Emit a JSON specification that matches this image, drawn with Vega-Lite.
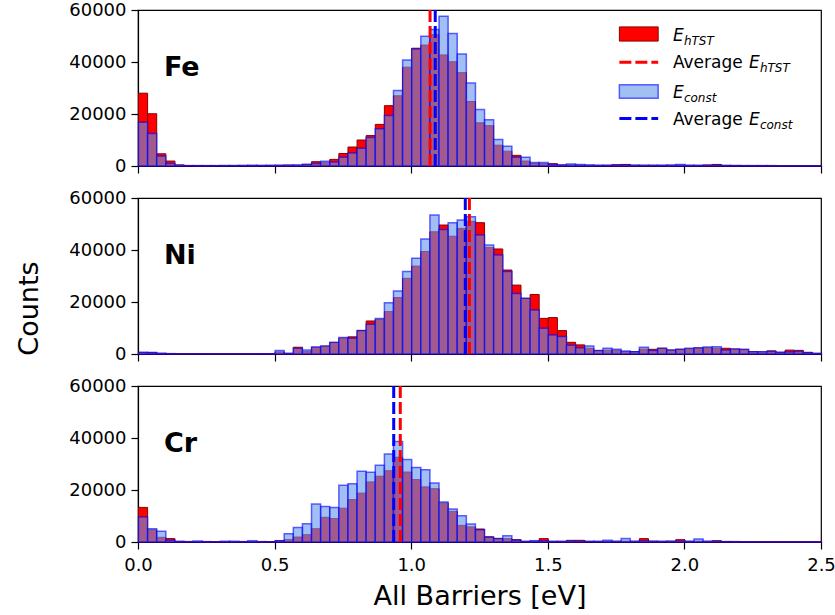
{
"$schema": "https://vega.github.io/schema/vega-lite/v6.json",
"background": "white",
"padding": {"left": 14, "top": 0, "right": 0, "bottom": 0},
"bounds": "flush",
"spacing": 32,
"datasets": {
"Fe_h": [{"x":0,"n":28000},{"x":0.0333,"n":20100},{"x":0.0667,"n":4700},{"x":0.1,"n":1900},{"x":0.1333,"n":400},{"x":0.1667,"n":200},{"x":0.2,"n":150},{"x":0.2333,"n":150},{"x":0.2667,"n":150},{"x":0.3,"n":150},{"x":0.3333,"n":150},{"x":0.3667,"n":150},{"x":0.4,"n":200},{"x":0.4333,"n":200},{"x":0.4667,"n":250},{"x":0.5,"n":300},{"x":0.5333,"n":350},{"x":0.5667,"n":300},{"x":0.6,"n":600},{"x":0.6333,"n":1650},{"x":0.6667,"n":1300},{"x":0.7,"n":2550},{"x":0.7333,"n":4800},{"x":0.7667,"n":7300},{"x":0.8,"n":10000},{"x":0.8333,"n":11700},{"x":0.8667,"n":16000},{"x":0.9,"n":23200},{"x":0.9333,"n":27000},{"x":0.9667,"n":38000},{"x":1,"n":45300},{"x":1.0333,"n":46500},{"x":1.0667,"n":50500},{"x":1.1,"n":42700},{"x":1.1333,"n":40100},{"x":1.1667,"n":35900},{"x":1.2,"n":24800},{"x":1.2333,"n":16600},{"x":1.2667,"n":15500},{"x":1.3,"n":8000},{"x":1.3333,"n":5700},{"x":1.3667,"n":4100},{"x":1.4,"n":1900},{"x":1.4333,"n":1000},{"x":1.4667,"n":900},{"x":1.5,"n":900},{"x":1.5333,"n":400},{"x":1.5667,"n":400},{"x":1.6,"n":300},{"x":1.6333,"n":300},{"x":1.6667,"n":250},{"x":1.7,"n":300},{"x":1.7333,"n":500},{"x":1.7667,"n":600},{"x":1.8,"n":300},{"x":1.8333,"n":250},{"x":1.8667,"n":300},{"x":1.9,"n":250},{"x":1.9333,"n":250},{"x":1.9667,"n":300},{"x":2,"n":250},{"x":2.0333,"n":250},{"x":2.0667,"n":400},{"x":2.1,"n":600},{"x":2.1333,"n":250},{"x":2.1667,"n":200},{"x":2.2,"n":200},{"x":2.2333,"n":150},{"x":2.2667,"n":150},{"x":2.3,"n":100},{"x":2.3333,"n":100},{"x":2.3667,"n":100},{"x":2.4,"n":100},{"x":2.4333,"n":100},{"x":2.4667,"n":100}],
"Fe_c": [{"x":0,"n":16800},{"x":0.0333,"n":12500},{"x":0.0667,"n":3800},{"x":0.1,"n":1000},{"x":0.1333,"n":300},{"x":0.1667,"n":150},{"x":0.2,"n":150},{"x":0.2333,"n":150},{"x":0.2667,"n":150},{"x":0.3,"n":200},{"x":0.3333,"n":200},{"x":0.3667,"n":250},{"x":0.4,"n":300},{"x":0.4333,"n":250},{"x":0.4667,"n":250},{"x":0.5,"n":250},{"x":0.5333,"n":300},{"x":0.5667,"n":400},{"x":0.6,"n":700},{"x":0.6333,"n":1000},{"x":0.6667,"n":1800},{"x":0.7,"n":1500},{"x":0.7333,"n":3400},{"x":0.7667,"n":5000},{"x":0.8,"n":6800},{"x":0.8333,"n":11000},{"x":0.8667,"n":14300},{"x":0.9,"n":19400},{"x":0.9333,"n":29000},{"x":0.9667,"n":40800},{"x":1,"n":45000},{"x":1.0333,"n":49900},{"x":1.0667,"n":52500},{"x":1.1,"n":57600},{"x":1.1333,"n":51000},{"x":1.1667,"n":43100},{"x":1.2,"n":31900},{"x":1.2333,"n":21700},{"x":1.2667,"n":17800},{"x":1.3,"n":10200},{"x":1.3333,"n":7600},{"x":1.3667,"n":3400},{"x":1.4,"n":3400},{"x":1.4333,"n":1300},{"x":1.4667,"n":1300},{"x":1.5,"n":600},{"x":1.5333,"n":400},{"x":1.5667,"n":800},{"x":1.6,"n":600},{"x":1.6333,"n":400},{"x":1.6667,"n":300},{"x":1.7,"n":250},{"x":1.7333,"n":300},{"x":1.7667,"n":350},{"x":1.8,"n":300},{"x":1.8333,"n":300},{"x":1.8667,"n":250},{"x":1.9,"n":300},{"x":1.9333,"n":400},{"x":1.9667,"n":600},{"x":2,"n":300},{"x":2.0333,"n":250},{"x":2.0667,"n":250},{"x":2.1,"n":300},{"x":2.1333,"n":200},{"x":2.1667,"n":200},{"x":2.2,"n":150},{"x":2.2333,"n":150},{"x":2.2667,"n":150},{"x":2.3,"n":150},{"x":2.3333,"n":100},{"x":2.3667,"n":100},{"x":2.4,"n":100},{"x":2.4333,"n":100},{"x":2.4667,"n":80}],
"Ni_h": [{"x":0,"n":600},{"x":0.0333,"n":600},{"x":0.0667,"n":250},{"x":0.1,"n":150},{"x":0.1333,"n":100},{"x":0.1667,"n":100},{"x":0.2,"n":100},{"x":0.2333,"n":100},{"x":0.2667,"n":80},{"x":0.3,"n":80},{"x":0.3333,"n":80},{"x":0.3667,"n":80},{"x":0.4,"n":100},{"x":0.4333,"n":100},{"x":0.4667,"n":100},{"x":0.5,"n":800},{"x":0.5333,"n":250},{"x":0.5667,"n":2600},{"x":0.6,"n":900},{"x":0.6333,"n":2600},{"x":0.6667,"n":3000},{"x":0.7,"n":4400},{"x":0.7333,"n":6100},{"x":0.7667,"n":6600},{"x":0.8,"n":9000},{"x":0.8333,"n":12700},{"x":0.8667,"n":13300},{"x":0.9,"n":16300},{"x":0.9333,"n":21700},{"x":0.9667,"n":29100},{"x":1,"n":33800},{"x":1.0333,"n":39400},{"x":1.0667,"n":47000},{"x":1.1,"n":49600},{"x":1.1333,"n":45300},{"x":1.1667,"n":48300},{"x":1.2,"n":51000},{"x":1.2333,"n":50500},{"x":1.2667,"n":41000},{"x":1.3,"n":40400},{"x":1.3333,"n":32300},{"x":1.3667,"n":26500},{"x":1.4,"n":21400},{"x":1.4333,"n":22900},{"x":1.4667,"n":13700},{"x":1.5,"n":14000},{"x":1.5333,"n":9000},{"x":1.5667,"n":4500},{"x":1.6,"n":3500},{"x":1.6333,"n":2200},{"x":1.6667,"n":1300},{"x":1.7,"n":1500},{"x":1.7333,"n":1400},{"x":1.7667,"n":900},{"x":1.8,"n":900},{"x":1.8333,"n":1900},{"x":1.8667,"n":1800},{"x":1.9,"n":2200},{"x":1.9333,"n":1500},{"x":1.9667,"n":1800},{"x":2,"n":2000},{"x":2.0333,"n":2300},{"x":2.0667,"n":2400},{"x":2.1,"n":2200},{"x":2.1333,"n":2200},{"x":2.1667,"n":1900},{"x":2.2,"n":1700},{"x":2.2333,"n":900},{"x":2.2667,"n":800},{"x":2.3,"n":1200},{"x":2.3333,"n":640},{"x":2.3667,"n":1500},{"x":2.4,"n":1400},{"x":2.4333,"n":640},{"x":2.4667,"n":250}],
"Ni_c": [{"x":0,"n":640},{"x":0.0333,"n":600},{"x":0.0667,"n":250},{"x":0.1,"n":150},{"x":0.1333,"n":100},{"x":0.1667,"n":100},{"x":0.2,"n":100},{"x":0.2333,"n":80},{"x":0.2667,"n":80},{"x":0.3,"n":80},{"x":0.3333,"n":80},{"x":0.3667,"n":100},{"x":0.4,"n":100},{"x":0.4333,"n":100},{"x":0.4667,"n":100},{"x":0.5,"n":1300},{"x":0.5333,"n":250},{"x":0.5667,"n":2200},{"x":0.6,"n":1500},{"x":0.6333,"n":2700},{"x":0.6667,"n":3100},{"x":0.7,"n":4500},{"x":0.7333,"n":6300},{"x":0.7667,"n":6100},{"x":0.8,"n":9000},{"x":0.8333,"n":11400},{"x":0.8667,"n":13700},{"x":0.9,"n":19700},{"x":0.9333,"n":24200},{"x":0.9667,"n":31700},{"x":1,"n":36800},{"x":1.0333,"n":44200},{"x":1.0667,"n":53500},{"x":1.1,"n":47900},{"x":1.1333,"n":50500},{"x":1.1667,"n":51500},{"x":1.2,"n":52800},{"x":1.2333,"n":45800},{"x":1.2667,"n":41900},{"x":1.3,"n":38100},{"x":1.3333,"n":31700},{"x":1.3667,"n":23300},{"x":1.4,"n":21400},{"x":1.4333,"n":16900},{"x":1.4667,"n":9900},{"x":1.5,"n":7300},{"x":1.5333,"n":6700},{"x":1.5667,"n":3400},{"x":1.6,"n":2400},{"x":1.6333,"n":3100},{"x":1.6667,"n":1300},{"x":1.7,"n":2200},{"x":1.7333,"n":1800},{"x":1.7667,"n":1200},{"x":1.8,"n":900},{"x":1.8333,"n":2600},{"x":1.8667,"n":1300},{"x":1.9,"n":2200},{"x":1.9333,"n":1500},{"x":1.9667,"n":1800},{"x":2,"n":2200},{"x":2.0333,"n":2400},{"x":2.0667,"n":2700},{"x":2.1,"n":2800},{"x":2.1333,"n":1500},{"x":2.1667,"n":1900},{"x":2.2,"n":1800},{"x":2.2333,"n":900},{"x":2.2667,"n":900},{"x":2.3,"n":1000},{"x":2.3333,"n":640},{"x":2.3667,"n":800},{"x":2.4,"n":1000},{"x":2.4333,"n":500},{"x":2.4667,"n":250}],
"Cr_h": [{"x":0,"n":13300},{"x":0.0333,"n":4700},{"x":0.0667,"n":1800},{"x":0.1,"n":1300},{"x":0.1333,"n":250},{"x":0.1667,"n":150},{"x":0.2,"n":150},{"x":0.2333,"n":100},{"x":0.2667,"n":100},{"x":0.3,"n":100},{"x":0.3333,"n":100},{"x":0.3667,"n":100},{"x":0.4,"n":150},{"x":0.4333,"n":100},{"x":0.4667,"n":100},{"x":0.5,"n":500},{"x":0.5333,"n":900},{"x":0.5667,"n":1900},{"x":0.6,"n":2800},{"x":0.6333,"n":5100},{"x":0.6667,"n":9500},{"x":0.7,"n":9000},{"x":0.7333,"n":13000},{"x":0.7667,"n":16300},{"x":0.8,"n":18800},{"x":0.8333,"n":23100},{"x":0.8667,"n":25300},{"x":0.9,"n":27400},{"x":0.9333,"n":32600},{"x":0.9667,"n":26900},{"x":1,"n":24000},{"x":1.0333,"n":21200},{"x":1.0667,"n":20500},{"x":1.1,"n":15000},{"x":1.1333,"n":11800},{"x":1.1667,"n":6400},{"x":1.2,"n":5800},{"x":1.2333,"n":5000},{"x":1.2667,"n":2000},{"x":1.3,"n":1300},{"x":1.3333,"n":1300},{"x":1.3667,"n":900},{"x":1.4,"n":250},{"x":1.4333,"n":300},{"x":1.4667,"n":1300},{"x":1.5,"n":250},{"x":1.5333,"n":250},{"x":1.5667,"n":640},{"x":1.6,"n":640},{"x":1.6333,"n":250},{"x":1.6667,"n":200},{"x":1.7,"n":250},{"x":1.7333,"n":250},{"x":1.7667,"n":300},{"x":1.8,"n":250},{"x":1.8333,"n":1300},{"x":1.8667,"n":300},{"x":1.9,"n":250},{"x":1.9333,"n":300},{"x":1.9667,"n":900},{"x":2,"n":250},{"x":2.0333,"n":300},{"x":2.0667,"n":250},{"x":2.1,"n":500},{"x":2.1333,"n":200},{"x":2.1667,"n":150},{"x":2.2,"n":100},{"x":2.2333,"n":100},{"x":2.2667,"n":100},{"x":2.3,"n":80},{"x":2.3333,"n":80},{"x":2.3667,"n":80},{"x":2.4,"n":80},{"x":2.4333,"n":80},{"x":2.4667,"n":80}],
"Cr_c": [{"x":0,"n":9600},{"x":0.0333,"n":5100},{"x":0.0667,"n":4100},{"x":0.1,"n":640},{"x":0.1333,"n":250},{"x":0.1667,"n":150},{"x":0.2,"n":400},{"x":0.2333,"n":150},{"x":0.2667,"n":100},{"x":0.3,"n":300},{"x":0.3333,"n":300},{"x":0.3667,"n":150},{"x":0.4,"n":500},{"x":0.4333,"n":150},{"x":0.4667,"n":100},{"x":0.5,"n":500},{"x":0.5333,"n":3200},{"x":0.5667,"n":5600},{"x":0.6,"n":7000},{"x":0.6333,"n":14600},{"x":0.6667,"n":13700},{"x":0.7,"n":13300},{"x":0.7333,"n":21800},{"x":0.7667,"n":22400},{"x":0.8,"n":27200},{"x":0.8333,"n":26800},{"x":0.8667,"n":29500},{"x":0.9,"n":33800},{"x":0.9333,"n":38700},{"x":0.9667,"n":31700},{"x":1,"n":28700},{"x":1.0333,"n":27800},{"x":1.0667,"n":22700},{"x":1.1,"n":15400},{"x":1.1333,"n":12700},{"x":1.1667,"n":10100},{"x":1.2,"n":6900},{"x":1.2333,"n":4700},{"x":1.2667,"n":1800},{"x":1.3,"n":1300},{"x":1.3333,"n":2400},{"x":1.3667,"n":700},{"x":1.4,"n":250},{"x":1.4333,"n":500},{"x":1.4667,"n":400},{"x":1.5,"n":250},{"x":1.5333,"n":250},{"x":1.5667,"n":300},{"x":1.6,"n":250},{"x":1.6333,"n":250},{"x":1.6667,"n":300},{"x":1.7,"n":640},{"x":1.7333,"n":300},{"x":1.7667,"n":1300},{"x":1.8,"n":300},{"x":1.8333,"n":400},{"x":1.8667,"n":300},{"x":1.9,"n":250},{"x":1.9333,"n":300},{"x":1.9667,"n":300},{"x":2,"n":300},{"x":2.0333,"n":1200},{"x":2.0667,"n":300},{"x":2.1,"n":250},{"x":2.1333,"n":150},{"x":2.1667,"n":150},{"x":2.2,"n":100},{"x":2.2333,"n":100},{"x":2.2667,"n":80},{"x":2.3,"n":80},{"x":2.3333,"n":80},{"x":2.3667,"n":80},{"x":2.4,"n":80},{"x":2.4333,"n":80},{"x":2.4667,"n":80}]
},
"vconcat": [
{
"width": 683, "height": 156,
"layer": [
{"data": {"name": "Fe_h"}, "mark": {"type": "bar", "fill": "#ff0000", "stroke": "#8b0000", "strokeWidth": 1, "binSpacing": 0},
 "encoding": {
  "x": {"field": "x", "type": "quantitative", "bin": {"binned": true, "step": 0.0333333}, "scale": {"domain": [0, 2.5], "nice": false}, "axis": {"values": [0, 0.5, 1, 1.5, 2, 2.5], "labels": false, "title": null}},
  "y": {"field": "n", "type": "quantitative", "scale": {"domain": [0, 60000], "nice": false}, "axis": {"values": [0, 20000, 40000, 60000], "format": "d", "title": null}}}},
{"data": {"name": "Fe_c"}, "mark": {"type": "bar", "fill": "#6495ed", "fillOpacity": 0.6, "stroke": "#0000ff", "strokeOpacity": 0.6, "strokeWidth": 1.5, "binSpacing": 0},
 "encoding": {
  "x": {"field": "x", "type": "quantitative", "bin": {"binned": true, "step": 0.0333333}},
  "y": {"field": "n", "type": "quantitative"}}},
{"data": {"values": [{"x": 1.069}]}, "mark": {"type": "rule", "color": "#ff0000", "strokeWidth": 3, "strokeDash": [12, 4]}, "encoding": {"x": {"field": "x", "type": "quantitative"}}},
{"data": {"values": [{"x": 1.088}]}, "mark": {"type": "rule", "color": "#0000ff", "strokeWidth": 3, "strokeDash": [12, 4]}, "encoding": {"x": {"field": "x", "type": "quantitative"}}},
{"data": {"values": [{"el": "Fe"}]}, "mark": {"type": "text", "font": "DejaVu Sans", "fontWeight": "bold", "fontSize": 27, "align": "left", "baseline": "alphabetic", "color": "#000000"}, "encoding": {"x": {"datum": 0.095}, "y": {"datum": 34500}, "text": {"field": "el"}}},
{"data": {"values": [{}]}, "mark": {"type": "rect", "fill": "#ff0000", "stroke": "#8b0000", "strokeWidth": 1}, "encoding": {"x": {"datum": 1.762}, "x2": {"datum": 1.904}, "y": {"datum": 53500}, "y2": {"datum": 48040}}},
{"data": {"values": [{}]}, "mark": {"type": "rule", "color": "#ff0000", "strokeWidth": 3, "strokeDash": [12, 4]}, "encoding": {"x": {"datum": 1.762}, "x2": {"datum": 1.904}, "y": {"datum": 39860}}},
{"data": {"values": [{}]}, "mark": {"type": "rect", "fill": "#6495ed", "fillOpacity": 0.6, "stroke": "#0000ff", "strokeOpacity": 0.6, "strokeWidth": 1.5}, "encoding": {"x": {"datum": 1.762}, "x2": {"datum": 1.904}, "y": {"datum": 31230}, "y2": {"datum": 26100}}},
{"data": {"values": [{}]}, "mark": {"type": "rule", "color": "#0000ff", "strokeWidth": 3, "strokeDash": [12, 4]}, "encoding": {"x": {"datum": 1.762}, "x2": {"datum": 1.904}, "y": {"datum": 18230}}},
{"data": {"values": [{"t": "E"}]}, "mark": {"type": "text", "font": "DejaVu Sans", "fontStyle": "italic", "fontSize": 17, "align": "left", "baseline": "alphabetic", "color": "#000000"}, "encoding": {"x": {"datum": 1.958}, "y": {"datum": 48040}, "text": {"field": "t"}}},
{"data": {"values": [{"t": "hTST"}]}, "mark": {"type": "text", "font": "DejaVu Sans", "fontStyle": "italic", "fontSize": 12, "align": "left", "baseline": "alphabetic", "dx": 11, "dy": 4, "color": "#000000"}, "encoding": {"x": {"datum": 1.958}, "y": {"datum": 48040}, "text": {"field": "t"}}},
{"data": {"values": [{"t": "Average"}]}, "mark": {"type": "text", "font": "DejaVu Sans", "fontSize": 17, "align": "left", "baseline": "alphabetic", "color": "#000000"}, "encoding": {"x": {"datum": 1.958}, "y": {"datum": 37570}, "text": {"field": "t"}}},
{"data": {"values": [{"t": "E"}]}, "mark": {"type": "text", "font": "DejaVu Sans", "fontStyle": "italic", "fontSize": 17, "align": "left", "baseline": "alphabetic", "dx": 76, "color": "#000000"}, "encoding": {"x": {"datum": 1.958}, "y": {"datum": 37570}, "text": {"field": "t"}}},
{"data": {"values": [{"t": "hTST"}]}, "mark": {"type": "text", "font": "DejaVu Sans", "fontStyle": "italic", "fontSize": 12, "align": "left", "baseline": "alphabetic", "dx": 87, "dy": 4, "color": "#000000"}, "encoding": {"x": {"datum": 1.958}, "y": {"datum": 37570}, "text": {"field": "t"}}},
{"data": {"values": [{"t": "E"}]}, "mark": {"type": "text", "font": "DejaVu Sans", "fontStyle": "italic", "fontSize": 17, "align": "left", "baseline": "alphabetic", "color": "#000000"}, "encoding": {"x": {"datum": 1.958}, "y": {"datum": 26100}, "text": {"field": "t"}}},
{"data": {"values": [{"t": "const"}]}, "mark": {"type": "text", "font": "DejaVu Sans", "fontStyle": "italic", "fontSize": 12, "align": "left", "baseline": "alphabetic", "dx": 11, "dy": 4, "color": "#000000"}, "encoding": {"x": {"datum": 1.958}, "y": {"datum": 26100}, "text": {"field": "t"}}},
{"data": {"values": [{"t": "Average"}]}, "mark": {"type": "text", "font": "DejaVu Sans", "fontSize": 17, "align": "left", "baseline": "alphabetic", "color": "#000000"}, "encoding": {"x": {"datum": 1.958}, "y": {"datum": 15670}, "text": {"field": "t"}}},
{"data": {"values": [{"t": "E"}]}, "mark": {"type": "text", "font": "DejaVu Sans", "fontStyle": "italic", "fontSize": 17, "align": "left", "baseline": "alphabetic", "dx": 76, "color": "#000000"}, "encoding": {"x": {"datum": 1.958}, "y": {"datum": 15670}, "text": {"field": "t"}}},
{"data": {"values": [{"t": "const"}]}, "mark": {"type": "text", "font": "DejaVu Sans", "fontStyle": "italic", "fontSize": 12, "align": "left", "baseline": "alphabetic", "dx": 87, "dy": 4, "color": "#000000"}, "encoding": {"x": {"datum": 1.958}, "y": {"datum": 15670}, "text": {"field": "t"}}}
]
},
{
"width": 683, "height": 156,
"layer": [
{"data": {"name": "Ni_h"}, "mark": {"type": "bar", "fill": "#ff0000", "stroke": "#8b0000", "strokeWidth": 1, "binSpacing": 0},
 "encoding": {
  "x": {"field": "x", "type": "quantitative", "bin": {"binned": true, "step": 0.0333333}, "scale": {"domain": [0, 2.5], "nice": false}, "axis": {"values": [0, 0.5, 1, 1.5, 2, 2.5], "labels": false, "title": null}},
  "y": {"field": "n", "type": "quantitative", "scale": {"domain": [0, 60000], "nice": false}, "axis": {"values": [0, 20000, 40000, 60000], "format": "d", "title": "Counts", "titleX": -101, "titleY": 110, "titleAlign": "center", "titleBaseline": "alphabetic", "titleAngle": 270}}}},
{"data": {"name": "Ni_c"}, "mark": {"type": "bar", "fill": "#6495ed", "fillOpacity": 0.6, "stroke": "#0000ff", "strokeOpacity": 0.6, "strokeWidth": 1.5, "binSpacing": 0},
 "encoding": {
  "x": {"field": "x", "type": "quantitative", "bin": {"binned": true, "step": 0.0333333}},
  "y": {"field": "n", "type": "quantitative"}}},
{"data": {"values": [{"x": 1.213}]}, "mark": {"type": "rule", "color": "#ff0000", "strokeWidth": 3, "strokeDash": [12, 4]}, "encoding": {"x": {"field": "x", "type": "quantitative"}}},
{"data": {"values": [{"x": 1.198}]}, "mark": {"type": "rule", "color": "#0000ff", "strokeWidth": 3, "strokeDash": [12, 4]}, "encoding": {"x": {"field": "x", "type": "quantitative"}}},
{"data": {"values": [{"el": "Ni"}]}, "mark": {"type": "text", "font": "DejaVu Sans", "fontWeight": "bold", "fontSize": 27, "align": "left", "baseline": "alphabetic", "color": "#000000"}, "encoding": {"x": {"datum": 0.095}, "y": {"datum": 34500}, "text": {"field": "el"}}}
]
},
{
"width": 683, "height": 156,
"layer": [
{"data": {"name": "Cr_h"}, "mark": {"type": "bar", "fill": "#ff0000", "stroke": "#8b0000", "strokeWidth": 1, "binSpacing": 0},
 "encoding": {
  "x": {"field": "x", "type": "quantitative", "bin": {"binned": true, "step": 0.0333333}, "scale": {"domain": [0, 2.5], "nice": false}, "axis": {"values": [0, 0.5, 1, 1.5, 2, 2.5], "format": ".1f", "title": "All Barriers [eV]", "titleY": 62, "titleBaseline": "alphabetic"}},
  "y": {"field": "n", "type": "quantitative", "scale": {"domain": [0, 60000], "nice": false}, "axis": {"values": [0, 20000, 40000, 60000], "format": "d", "title": null}}}},
{"data": {"name": "Cr_c"}, "mark": {"type": "bar", "fill": "#6495ed", "fillOpacity": 0.6, "stroke": "#0000ff", "strokeOpacity": 0.6, "strokeWidth": 1.5, "binSpacing": 0},
 "encoding": {
  "x": {"field": "x", "type": "quantitative", "bin": {"binned": true, "step": 0.0333333}},
  "y": {"field": "n", "type": "quantitative"}}},
{"data": {"values": [{"x": 0.960}]}, "mark": {"type": "rule", "color": "#ff0000", "strokeWidth": 3, "strokeDash": [12, 4]}, "encoding": {"x": {"field": "x", "type": "quantitative"}}},
{"data": {"values": [{"x": 0.936}]}, "mark": {"type": "rule", "color": "#0000ff", "strokeWidth": 3, "strokeDash": [12, 4]}, "encoding": {"x": {"field": "x", "type": "quantitative"}}},
{"data": {"values": [{"el": "Cr"}]}, "mark": {"type": "text", "font": "DejaVu Sans", "fontWeight": "bold", "fontSize": 27, "align": "left", "baseline": "alphabetic", "color": "#000000"}, "encoding": {"x": {"datum": 0.095}, "y": {"datum": 34500}, "text": {"field": "el"}}}
]
}
],
"config": {
 "view": {"stroke": "#000000", "strokeWidth": 1.2},
 "font": "DejaVu Sans",
 "axis": {"grid": false, "domainColor": "#000000", "domainWidth": 1.2, "tickColor": "#000000", "tickWidth": 1.2, "tickSize": 7, "labelColor": "#000000", "labelFont": "DejaVu Sans", "labelFontSize": 18, "titleFont": "DejaVu Sans", "titleFontSize": 27, "titleFontWeight": "normal", "titleColor": "#000000"},
 "axisX": {"labelPadding": 7, "labelFlush": false},
 "axisY": {"labelPadding": 5}
}
}
